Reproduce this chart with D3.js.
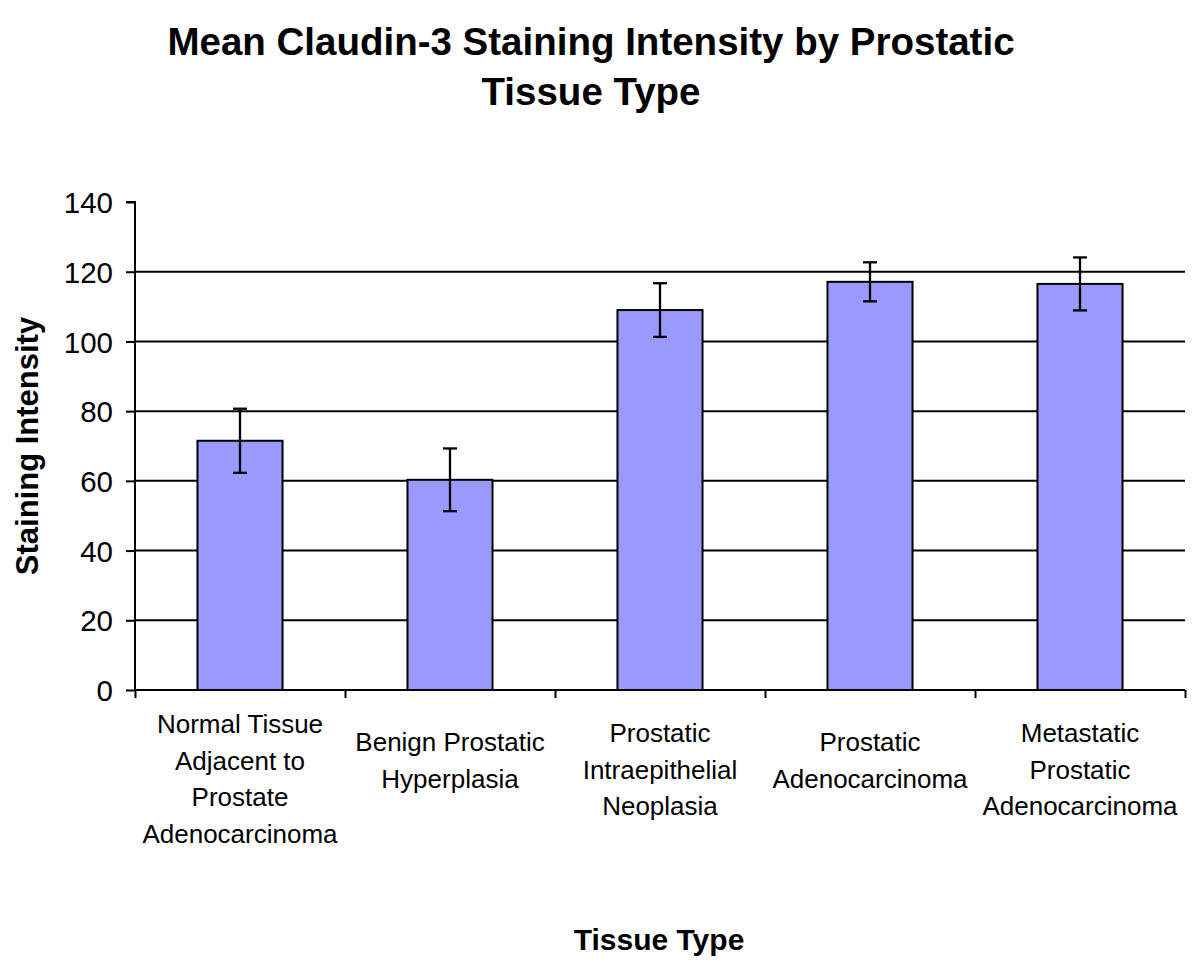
<!DOCTYPE html>
<html><head><meta charset="utf-8">
<script src="https://cdn.jsdelivr.net/npm/d3@7"></script>
<style>body{margin:0;background:#fff}svg{display:block}</style>
</head><body>
<script>
const categories = [
  ["Normal Tissue","Adjacent to","Prostate","Adenocarcinoma"],
  ["Benign Prostatic","Hyperplasia"],
  ["Prostatic","Intraepithelial","Neoplasia"],
  ["Prostatic","Adenocarcinoma"],
  ["Metastatic","Prostatic","Adenocarcinoma"]
];
const means = [71.5, 60.3, 109.0, 117.1, 116.5];
const errors = [9.2, 9.0, 7.7, 5.6, 7.6];
const yTicks = [0, 20, 40, 60, 80, 100, 120, 140];
const titleLines = ["Mean Claudin-3 Staining Intensity by Prostatic", "Tissue Type"];
const xTitle = "Tissue Type";
const yTitle = "Staining Intensity";

const W = 1200, H = 980;
const svg = d3.select("body").append("svg").attr("width", W).attr("height", H);
const font = "Liberation Sans, Arial, sans-serif";

const x = d3.scaleBand().domain(d3.range(categories.length)).range([135, 1185]).paddingInner(0).paddingOuter(0);
const y = d3.scaleLinear().domain([0, 140]).range([690, 202]);
const barW = x.bandwidth() * 0.405;

// gridlines
svg.append("g").selectAll("line").data(yTicks.filter(t => t > 0 && t < 140)).join("line")
  .attr("x1", 135).attr("x2", 1185).attr("y1", d => y(d)).attr("y2", d => y(d))
  .attr("stroke", "#000").attr("stroke-width", 2);

// bars
svg.append("g").selectAll("rect").data(means).join("rect")
  .attr("x", (d, i) => x(i) + (x.bandwidth() - barW) / 2)
  .attr("y", d => y(d))
  .attr("width", barW)
  .attr("height", d => y(0) - y(d))
  .attr("fill", "#9999FF").attr("stroke", "#000").attr("stroke-width", 2);

// error bars
const eg = svg.append("g").attr("stroke", "#000").attr("stroke-width", 2.3);
means.forEach((m, i) => {
  const cx = x(i) + x.bandwidth() / 2;
  eg.append("line").attr("x1", cx).attr("x2", cx).attr("y1", y(m + errors[i])).attr("y2", y(m - errors[i]));
  eg.append("line").attr("x1", cx - 7).attr("x2", cx + 7).attr("y1", y(m + errors[i])).attr("y2", y(m + errors[i]));
  eg.append("line").attr("x1", cx - 7).attr("x2", cx + 7).attr("y1", y(m - errors[i])).attr("y2", y(m - errors[i]));
});

// y axis
const yAxis = d3.axisLeft(y).tickValues(yTicks).tickSize(9).tickPadding(13);
const yg = svg.append("g").attr("transform", "translate(135,0)").call(yAxis);
yg.select(".domain").attr("stroke", "#000").attr("stroke-width", 2).attr("d", `M-9,${y(140)}H0V${y(0)}`);
yg.selectAll(".tick line").attr("stroke", "#000").attr("stroke-width", 2);
yg.selectAll(".tick text").attr("font-family", font).attr("font-size", 29.5).attr("fill", "#000").attr("dy", "0.36em");

// x axis
const xb = d3.scaleLinear().domain([0, categories.length]).range([135, 1185]);
const xg = svg.append("g").attr("transform", `translate(0,${y(0)})`)
  .call(d3.axisBottom(xb).tickValues(d3.range(categories.length + 1)).tickSize(8).tickFormat(""));
xg.select(".domain").attr("stroke", "#000").attr("stroke-width", 2).attr("d", "M135,0H1185");
xg.selectAll(".tick line").attr("stroke", "#000").attr("stroke-width", 2);

// category labels
categories.forEach((lines, i) => {
  const cx = x(i) + x.bandwidth() / 2;
  const firstY = 724 + (4 - lines.length) * 9;
  const t = svg.append("text").attr("font-family", font).attr("font-size", 26)
    .attr("text-anchor", "middle").attr("fill", "#000");
  lines.forEach((l, j) => {
    t.append("tspan").attr("x", cx).attr("y", firstY + j * 36.5).attr("dy", "0.35em").text(l);
  });
});

// title
titleLines.forEach((l, j) => {
  svg.append("text").attr("x", 591).attr("y", 42 + j * 50).attr("dy", "0.35em")
    .attr("text-anchor", "middle").attr("font-family", font).attr("font-weight", "bold")
    .attr("font-size", 38.5).attr("fill", "#000").text(l);
});

// axis titles
svg.append("text").attr("x", 659).attr("y", 939).attr("dy", "0.35em")
  .attr("text-anchor", "middle").attr("font-family", font).attr("font-weight", "bold")
  .attr("font-size", 30).attr("fill", "#000").text(xTitle);
svg.append("text").attr("transform", "translate(27,446) rotate(-90)").attr("dy", "0.35em")
  .attr("text-anchor", "middle").attr("font-family", font).attr("font-weight", "bold")
  .attr("font-size", 31).attr("fill", "#000").text(yTitle);
</script>
</body></html>
